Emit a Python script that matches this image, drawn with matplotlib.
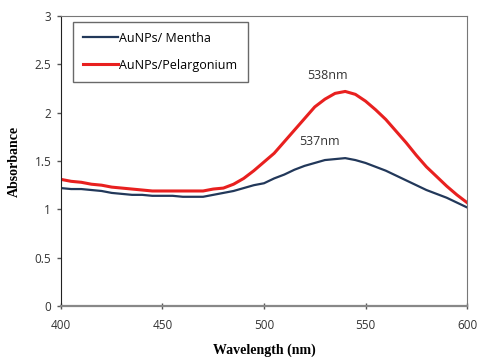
import matplotlib
matplotlib.use('Agg')
import matplotlib.pyplot as plt
import numpy as np

# Wavelength (nm)
wavelength = list(range(400, 601, 5))

# AuNPs/Pelargonium absorbance
pelargonium = [1.31, 1.29, 1.28, 1.26, 1.25, 1.23, 1.22, 1.21, 1.20, 1.19,
               1.19, 1.19, 1.19, 1.19, 1.19, 1.21, 1.22, 1.26, 1.32, 1.40,
               1.49, 1.58, 1.70, 1.82, 1.94, 2.06, 2.14, 2.20, 2.22, 2.19,
               2.12, 2.03, 1.93, 1.81, 1.69, 1.56, 1.44, 1.34, 1.24, 1.15,
               1.07]

# AuNPs/Mentha absorbance
mentha = [1.22, 1.21, 1.21, 1.20, 1.19, 1.17, 1.16, 1.15, 1.15, 1.14,
          1.14, 1.14, 1.13, 1.13, 1.13, 1.15, 1.17, 1.19, 1.22, 1.25,
          1.27, 1.32, 1.36, 1.41, 1.45, 1.48, 1.51, 1.52, 1.53, 1.51,
          1.48, 1.44, 1.40, 1.35, 1.30, 1.25, 1.20, 1.16, 1.12, 1.07,
          1.02]

xticks = [400, 450, 500, 550, 600]
yticks = [0, 0.5, 1, 1.5, 2, 2.5, 3]
ytick_labels = ['0', '0.5', '1', '1.5', '2', '2.5', '3']

sans = 'Open Sans'

fig = plt.figure(figsize=(4.79, 3.57), dpi=100)
ax = fig.add_axes([0.1273, 0.1429, 0.8477, 0.8121])

ax.plot(wavelength, mentha, color='#22385a', lw=1.6, label='AuNPs/ Mentha')
ax.plot(wavelength, pelargonium, color='#e8201f', lw=2.2, label='AuNPs/Pelargonium')

ax.text(531.5, 2.39, '538nm', ha='center', va='center', fontsize=9, family=sans, color='#333333')
ax.text(527.5, 1.70, '537nm', ha='center', va='center', fontsize=9, family=sans, color='#333333')

ax.set_xlim(400, 600)
ax.set_ylim(0, 3)
ax.set_xticks(xticks)
ax.set_yticks(yticks)
ax.set_yticklabels(ytick_labels)
for lab in ax.get_xticklabels() + ax.get_yticklabels():
    lab.set_family(sans)
    lab.set_fontsize(8.5)
    lab.set_color('#333333')

ax.tick_params(axis='x', direction='inout', length=5, width=1, color='#555555', pad=7)
ax.tick_params(axis='y', direction='out', length=3, width=1, color='#555555', pad=4)

ax.spines['top'].set_color('#777777')
ax.spines['right'].set_color('#777777')
ax.spines['left'].set_color('#222222')
ax.spines['bottom'].set_color('#888888')
ax.spines['bottom'].set_linewidth(1.6)

ax.set_xlabel('Wavelength (nm)', family='Liberation Serif', fontweight='bold', fontsize=10, labelpad=8)
ax.set_ylabel('Absorbance', family='Liberation Serif', fontweight='bold', fontsize=10, labelpad=10)

leg = ax.legend(loc='upper left', bbox_to_anchor=(0.03, 0.98), fancybox=False, frameon=True,
                prop={'family': sans, 'size': 9}, handlelength=2.8, handletextpad=0.1,
                labelspacing=1.1, borderpad=0.8, borderaxespad=0)
leg.get_frame().set_edgecolor('#444444')
leg.get_frame().set_linewidth(1.0)

fig.savefig('out.png', dpi=100)
